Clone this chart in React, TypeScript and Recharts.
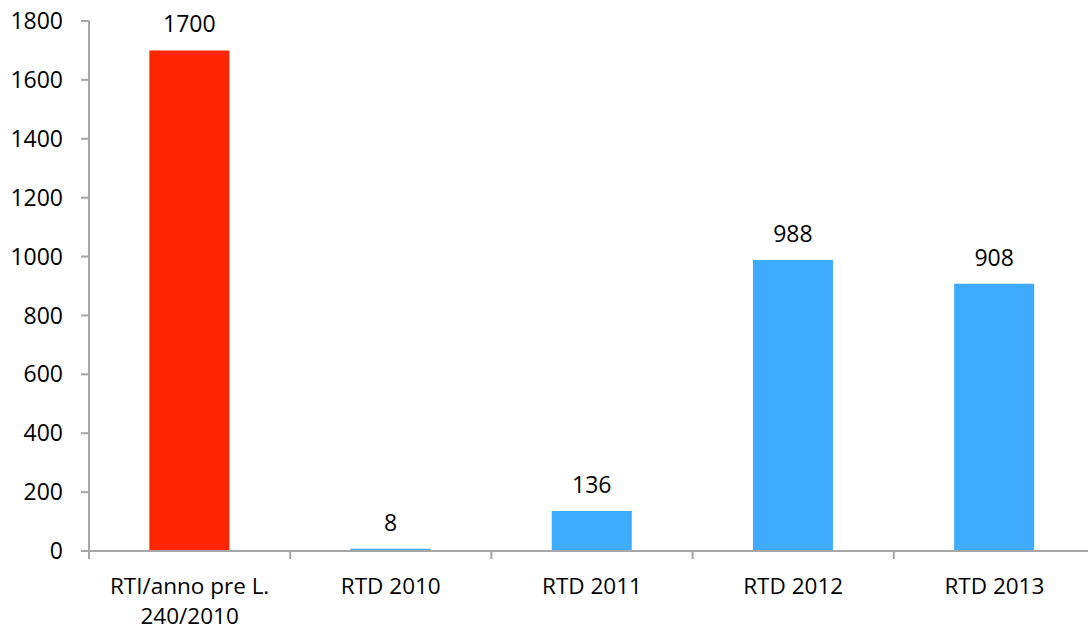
// @ts-nocheck
import { BarChart, Bar, XAxis, YAxis, Cell, LabelList } from "recharts";

const categories = ["RTI/anno pre L. 240/2010", "RTD 2010", "RTD 2011", "RTD 2012", "RTD 2013"];
const values = [1700, 8, 136, 988, 908];
const barColors = ["#FF2600", "#3FABFF", "#3FABFF", "#3FABFF", "#3FABFF"];
const yTicks = [0, 200, 400, 600, 800, 1000, 1200, 1400, 1600, 1800];

const FONT = "'Open Sans', sans-serif";
const AXIS = "#A6A6A6";
const AXIS_Y = 551; // bottom of plot area (630 - xaxis height)

const XTick = ({ x, y, payload, index }) => {
  // first label is split on two lines like the original
  const lines = payload.value === categories[0] ? ["RTI/anno pre L.", "240/2010"] : [payload.value];
  const half = payload.offset || 0;
  return (
    <g>
      {/* tick marks sit between categories */}
      <line x1={x - half} x2={x - half} y1={AXIS_Y} y2={AXIS_Y + 8} stroke={AXIS} strokeWidth={2} />
      {index === categories.length - 1 && (
        <line x1={x + half} x2={x + half} y1={AXIS_Y} y2={AXIS_Y + 8} stroke={AXIS} strokeWidth={2} />
      )}
      {lines.map((t, i) => (
        <text key={i} x={x} y={AXIS_Y + 43 + i * 30} textAnchor="middle" fontSize={22.5} fontFamily={FONT} fill="#000">
          {t}
        </text>
      ))}
    </g>
  );
};

export default function App() {
  const data = categories.map((c, i) => ({ name: c, value: values[i] }));
  return (
    <div style={{ position: "absolute", left: 0, top: 0, width: 1088, height: 630, overflow: "hidden", background: "#fff" }}>
      <BarChart width={1095} height={630} data={data} margin={{ top: 21, right: 0, bottom: 0, left: 0 }} barCategoryGap="30%">
        <XAxis
          dataKey="name"
          height={79}
          interval={0}
          tick={<XTick />}
          tickLine={false}
          axisLine={{ stroke: AXIS, strokeWidth: 2 }}
        />
        <YAxis
          width={89}
          domain={[0, 1800]}
          ticks={yTicks}
          interval={0}
          tickSize={8}
          tickMargin={18}
          tickLine={{ stroke: AXIS, strokeWidth: 2 }}
          axisLine={{ stroke: AXIS, strokeWidth: 2 }}
          tick={{ fontSize: 23, fontFamily: FONT, fill: "#000" }}
        />
        <Bar dataKey="value" isAnimationActive={false}>
          {data.map((d, i) => (
            <Cell key={i} fill={barColors[i]} />
          ))}
          <LabelList dataKey="value" position="top" offset={18} style={{ fontSize: 23, fontFamily: FONT, fill: "#000" }} />
        </Bar>
      </BarChart>
    </div>
  );
}
